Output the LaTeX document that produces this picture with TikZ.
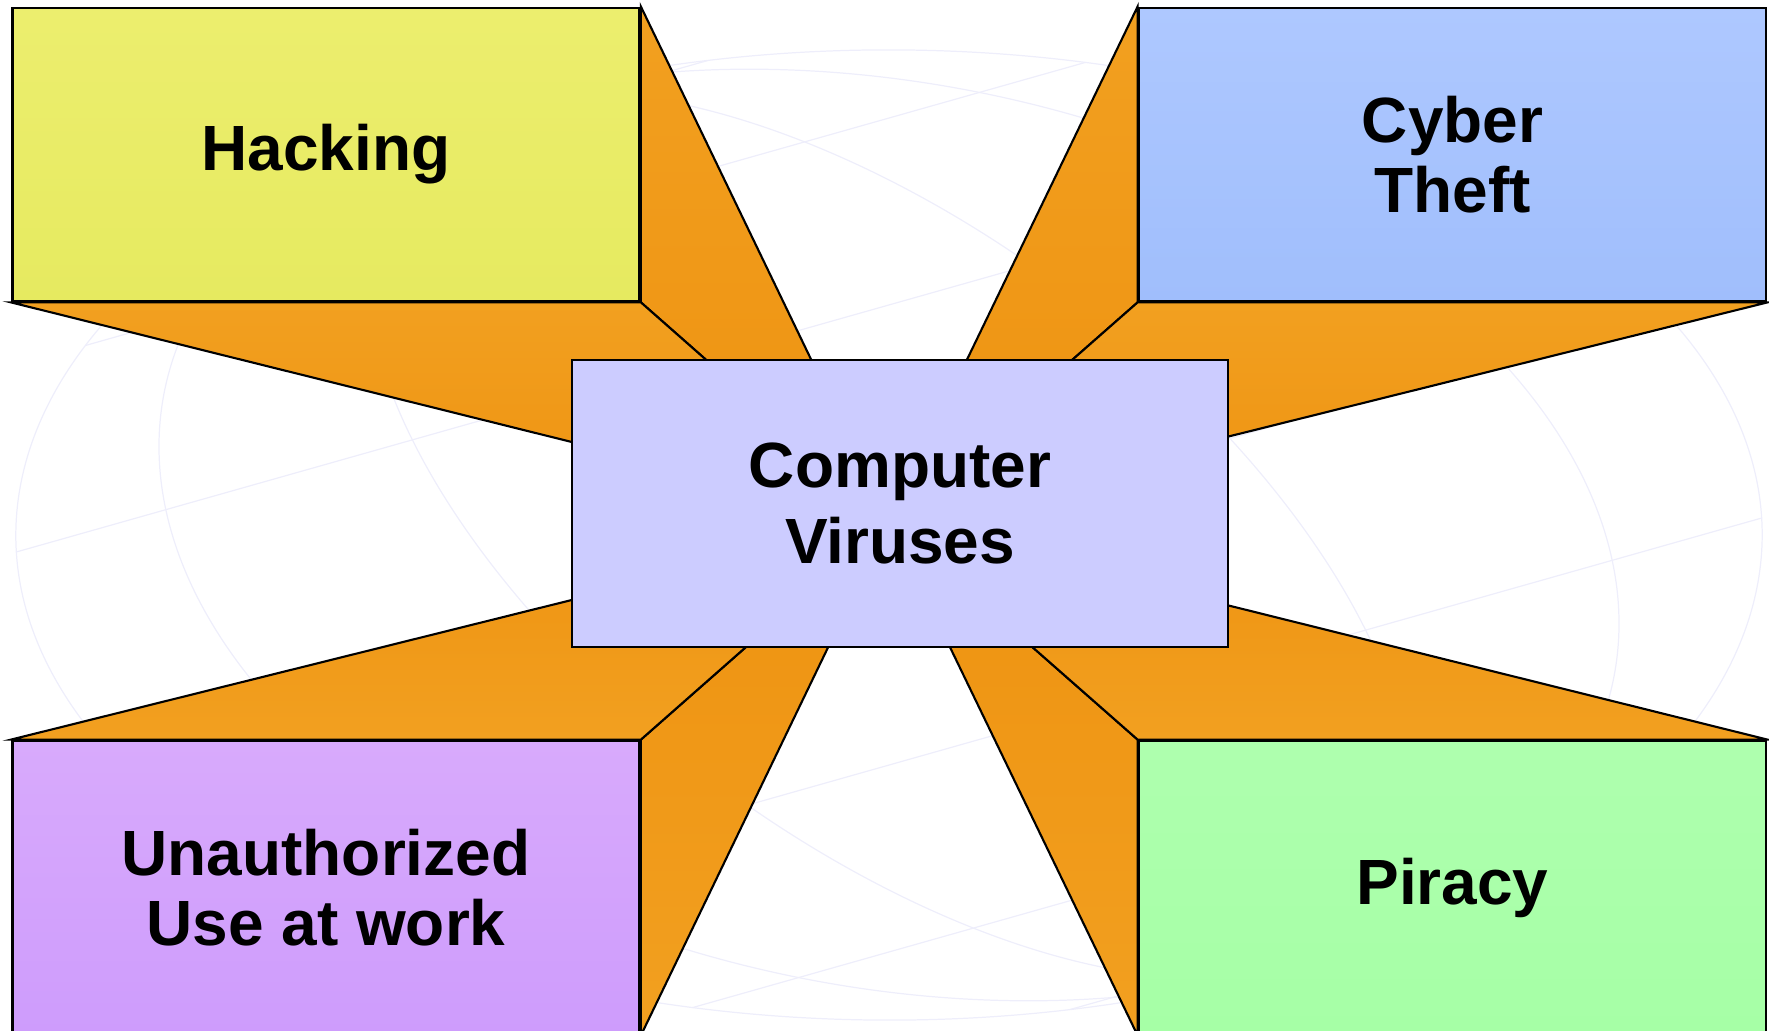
\documentclass[tikz,border=0pt]{standalone}
\usepackage{fontspec}
\setmainfont{Liberation Sans}

\definecolor{hacktop}{HTML}{ECEE6E}
\definecolor{hackbot}{HTML}{E6EA60}
\definecolor{cybertop}{HTML}{AEC8FF}
\definecolor{cyberbot}{HTML}{A0BEFC}
\definecolor{unauthtop}{HTML}{D8AAFC}
\definecolor{unauthbot}{HTML}{CE9CFC}
\definecolor{piracytop}{HTML}{AEFFAE}
\definecolor{piracybot}{HTML}{A6FFA6}
\definecolor{virusfill}{HTML}{CCCCFF}
\definecolor{orlight}{HTML}{F2A020}
\definecolor{ordark}{HTML}{EE9210}
\definecolor{globeline}{HTML}{EEEEFB}

\begin{document}
\begin{tikzpicture}[
    topic/.style={rectangle, draw=black, line width=0.8pt, minimum width=6.27cm, minimum height=2.93cm,
        align=center, font=\fontsize{18.2}{19.8}\selectfont\bfseries},
    ray/.style={draw=black, line width=0.6pt},
    globe/.style={draw=globeline, line width=0.35pt}]

    \useasboundingbox (0,0) rectangle (17.69,10.30);
    \clip (0,0) rectangle (17.69,10.30);

    % faint globe behind everything
    \begin{scope}[shift={(8.89,4.95)}, xscale=1.8, rotate=27]
        \draw[globe] (0,0) circle (4.85);
        \foreach \lat in {-75,-50,-25,0,25,50,75}
            \draw[globe] ({-4.85*cos(\lat)},{4.85*sin(\lat)}) -- ({4.85*cos(\lat)},{4.85*sin(\lat)});
        \foreach \lon in {26,52}
            \draw[globe] (0,0) ellipse ({4.85*sin(\lon)} and 4.85);
    \end{scope}

    \node[topic, top color=hacktop, bottom color=hackbot] (hack) at (3.26,8.755) {Hacking};
    \node[topic, top color=cybertop, bottom color=cyberbot] (cyber) at (14.525,8.755) {Cyber\\Theft};
    \node[topic, top color=unauthtop, bottom color=unauthbot] (unauth) at (3.26,1.425) {Unauthorized\\Use at work};
    \node[topic, top color=piracytop, bottom color=piracybot] (piracy) at (14.525,1.425) {Piracy};
    \coordinate (vp) at (8.89,5.09);

    \foreach \b/\p/\q in {hack/north east/south east, hack/south west/south east,
                          cyber/north west/south west, cyber/south east/south west}
        \path[ray, top color=orlight, bottom color=ordark] (\b.\p) -- (\b.\q) -- (vp) -- cycle;
    \foreach \b/\p/\q in {unauth/south east/north east, unauth/north west/north east,
                          piracy/south west/north west, piracy/north east/north west}
        \path[ray, top color=ordark, bottom color=orlight] (\b.\p) -- (\b.\q) -- (vp) -- cycle;

    \node[topic, fill=virusfill, line width=0.5pt, minimum width=6.56cm, minimum height=2.87cm,
          font=\fontsize{18.2}{21.8}\selectfont\bfseries] (virus) at (9.00,5.265) {Computer\\Viruses};
\end{tikzpicture}
\end{document}
